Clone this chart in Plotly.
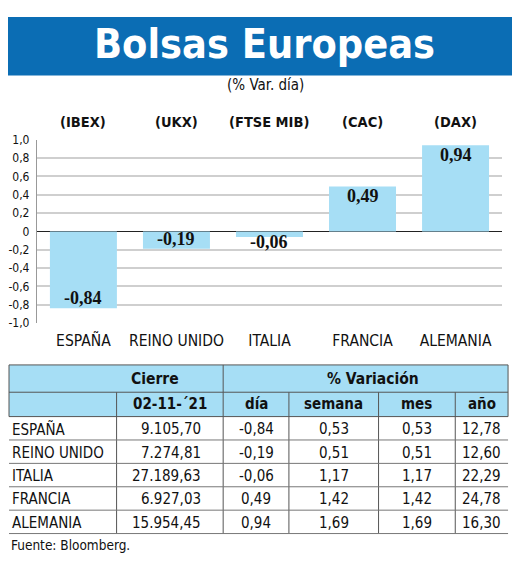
import plotly.graph_objects as go

# the page has an 8px body margin, so the figure is drawn 8px in
OX, OY = 8, 8
W, H = 512, 554

# datos del grafico
paises = ["ESPAÑA", "REINO UNIDO", "ITALIA", "FRANCIA", "ALEMANIA"]
indices = ["(IBEX)", "(UKX)", "(FTSE MIB)", "(CAC)", "(DAX)"]
var_dia = [-0.84, -0.19, -0.06, 0.49, 0.94]
ticks_y = [1.0, 0.8, 0.6, 0.4, 0.2, 0, -0.2, -0.4, -0.6, -0.8, -1.0]
ticks_txt = ["1,0", "0,8", "0,6", "0,4", "0,2", "0", "-0,2", "-0,4", "-0,6", "-0,8", "-1,0"]

# datos de la tabla
cierre = ["9.105,70", "7.274,81", "27.189,63", "6.927,03", "15.954,45"]
t_dia = ["-0,84", "-0,19", "-0,06", "0,49", "0,94"]
t_semana = ["0,53", "0,51", "1,17", "1,42", "1,69"]
t_mes = ["0,53", "0,51", "1,17", "1,42", "1,69"]
t_anio = ["12,78", "12,60", "22,29", "24,78", "16,30"]
cabecera = ["", "02-11-´21", "día", "semana", "mes", "año"]

NARROW = "DejaVu Sans Condensed, sans-serif"
AZUL = "#0b6db4"
CELESTE = "#a6def5"
NEGRO = "#111"


def px(x):
    return (x - OX) / W


def py(y):
    return 1 - (y - OY) / H


def texto(t, x, y, size, xa="center", ya="middle", xref="paper", yref="paper",
          family=NARROW, color=NEGRO, yshift=0):
    return dict(text=t, x=x, y=y, xref=xref, yref=yref, showarrow=False,
                xanchor=xa, yanchor=ya, yshift=yshift,
                font=dict(family=family, size=size, color=color))


fig = go.Figure()

fig.add_trace(go.Bar(
    x=paises, y=var_dia,
    marker=dict(color=CELESTE, line_width=0),
    hoverinfo="skip",
))

shapes = []
ann = []

# banda del titulo
shapes.append(dict(type="rect", xref="paper", yref="paper",
                   x0=px(5), x1=px(513), y0=py(70), y1=py(10),
                   fillcolor=AZUL, line_width=0, layer="below"))
ann.append(texto("<b>Bolsas Europeas</b>", px(263), py(38), 41, color="white"))
ann.append(texto("(% Var. día)", px(265), py(80), 15))

# indices sobre cada barra
for p, ind in zip(paises, indices):
    ann.append(texto("<b>" + ind + "</b>", p, py(118), 14.5, xref="x"))

# valores de las barras
for p, v in zip(paises, var_dia):
    t = "<b>" + f"{v:.2f}".replace(".", ",") + "</b>"
    if abs(v) < 0.15:
        ya, sh = "top", 7       # barra muy corta: etiqueta por debajo
    elif v < 0:
        ya, sh = "bottom", -2
    else:
        ya, sh = "top", 2
    ann.append(texto(t, p, v, 18, ya=ya, xref="x", yref="y", yshift=sh,
                     family="Liberation Serif, serif"))

# tabla
cols = [7, 115, 222, 288, 378, 455, 508]
y_top, y_mid, y_body = 367, 395, 420
row_h = 24
linea = "#555"

shapes.append(dict(type="rect", xref="paper", yref="paper",
                   x0=px(cols[0]), x1=px(cols[-1]), y0=py(y_body), y1=py(y_top),
                   fillcolor=CELESTE, line=dict(color=linea, width=1)))
shapes.append(dict(type="line", xref="paper", yref="paper",
                   x0=px(cols[0]), x1=px(cols[-1]), y0=py(y_mid), y1=py(y_mid),
                   line=dict(color=linea, width=1)))
shapes.append(dict(type="line", xref="paper", yref="paper",
                   x0=px(cols[2]), x1=px(cols[2]), y0=py(y_mid), y1=py(y_top),
                   line=dict(color=linea, width=1)))
for c in cols[1:-1]:
    shapes.append(dict(type="line", xref="paper", yref="paper",
                       x0=px(c), x1=px(c), y0=py(y_body + 5 * row_h), y1=py(y_mid),
                       line=dict(color=linea, width=1)))

ym = py((y_top + y_mid) / 2)
ann.append(texto("<b>Cierre</b>", px(154), ym, 15.5))
ann.append(texto("<b>% Variación</b>", px(372), ym, 15.5))
for i, h in enumerate(cabecera):
    if h:
        ann.append(texto("<b>" + h + "</b>", px((cols[i] + cols[i + 1]) / 2),
                         py((y_mid + y_body) / 2), 15))

columnas = [paises, cierre, t_dia, t_semana, t_mes, t_anio]
alinear = ["left", "right", "center", "center", "center", "right"]
for r in range(len(paises)):
    yb = y_body + (r + 1) * row_h
    shapes.append(dict(type="line", xref="paper", yref="paper",
                       x0=px(cols[0]), x1=px(cols[-1]), y0=py(yb), y1=py(yb),
                       line=dict(color="#777", width=1)))
    for c, col in enumerate(columnas):
        a = alinear[c]
        if a == "left":
            x = cols[c] + 1
        elif a == "right":
            x = cols[c + 1] - (20 if c == 1 else 5)
        else:
            x = (cols[c] + cols[c + 1]) / 2
        ann.append(texto(col[r], px(x), py(yb - row_h / 2 + 1), 15, xa=a))

ann.append(texto("Fuente: Bloomberg.", px(7), py(552), 13.5, xa="left"))

fig.update_layout(
    width=W, height=H,
    margin=dict(l=0, r=0, t=0, b=0),
    paper_bgcolor="white", plot_bgcolor="white",
    showlegend=False, bargap=0.28,
    shapes=shapes, annotations=ann,
    xaxis=dict(domain=[px(35), px(502)], showgrid=False, zeroline=False,
               showline=False, ticks="", ticklabelstandoff=6,
               tickfont=dict(family=NARROW, size=15.5, color=NEGRO)),
    yaxis=dict(domain=[py(324), py(136)], range=[-1.0, 1.0],
               tickvals=ticks_y, ticktext=ticks_txt,
               showgrid=True, gridcolor="#cfcfcf", gridwidth=1.5,
               zeroline=True, zerolinecolor="#222", zerolinewidth=1,
               showline=True, linecolor="#999", linewidth=1,
               ticks="", ticklabelstandoff=4,
               tickfont=dict(family=NARROW, size=12, color=NEGRO)),
)

fig.write_html("out.html")
